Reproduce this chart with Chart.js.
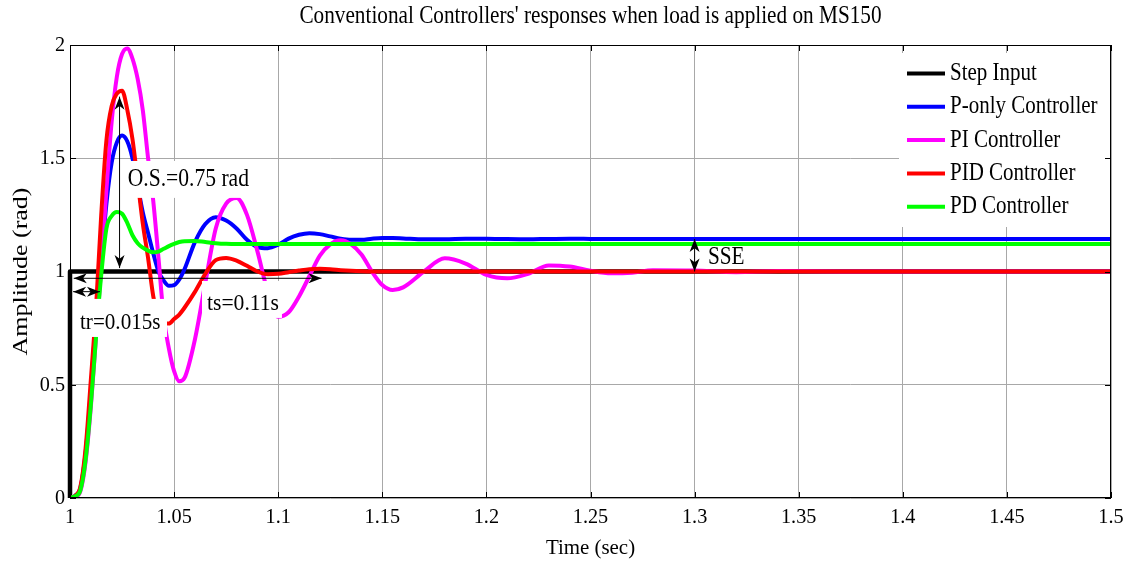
<!DOCTYPE html>
<html>
<head>
<meta charset="utf-8">
<script src="https://cdn.jsdelivr.net/npm/chart.js@4.4.1/dist/chart.umd.min.js"></script>
<style>
  body { margin: 0; background: #fff; }
  canvas { display: block; }
</style>
</head>
<body>
<canvas id="respChart" width="1136" height="562"></canvas>
<script>
// time axis (sec), shared by the four controller responses
const tSec = [
  1.0, 1.0025, 1.005, 1.0075, 1.01, 1.0125, 1.015, 1.0175, 1.02, 1.0225,
  1.025, 1.0275, 1.03, 1.0325, 1.035, 1.0375, 1.04, 1.0425, 1.045, 1.0475,
  1.05, 1.0525, 1.055, 1.06, 1.065, 1.07, 1.075, 1.08, 1.085, 1.09,
  1.095, 1.1, 1.105, 1.11, 1.115, 1.12, 1.125, 1.13, 1.135, 1.14,
  1.145, 1.15, 1.155, 1.16, 1.17, 1.18, 1.19, 1.2, 1.21, 1.22,
  1.23, 1.24, 1.25, 1.26, 1.27, 1.28, 1.3, 1.32, 1.34, 1.37,
  1.4, 1.45, 1.5
];

const pOnly = [
  0, 0.01, 0.045, 0.2, 0.47, 0.8, 1.04, 1.3, 1.48, 1.57,
  1.6, 1.575, 1.5, 1.38, 1.26, 1.17, 1.08, 1.0, 0.96, 0.937,
  0.94, 0.965, 1.01, 1.13, 1.21, 1.24, 1.225, 1.19, 1.14, 1.108,
  1.103, 1.118, 1.145, 1.162, 1.169, 1.165, 1.155, 1.145, 1.14, 1.14,
  1.145, 1.148, 1.148, 1.146, 1.142, 1.142, 1.145, 1.145, 1.143, 1.142,
  1.144, 1.145, 1.144, 1.143, 1.143, 1.144, 1.144, 1.143, 1.143, 1.143,
  1.143, 1.143, 1.143
];

const piCtrl = [
  0, 0.005, 0.03, 0.16, 0.4, 0.71, 1.02, 1.36, 1.66, 1.86,
  1.96, 1.985, 1.94, 1.85, 1.71, 1.5, 1.31, 1.06, 0.8, 0.66,
  0.56, 0.515, 0.53, 0.7, 0.95, 1.19, 1.3, 1.325, 1.25, 1.09,
  0.91, 0.8, 0.82, 0.89, 0.98, 1.07, 1.12, 1.138, 1.12, 1.075,
  1.0, 0.94, 0.918, 0.93, 1.0, 1.058, 1.035, 0.985, 0.97, 0.99,
  1.027, 1.022, 1.003, 0.992, 0.995, 1.006, 1.004, 0.997, 1.002, 1.0,
  1.0, 1.0, 1.0
];

const pidCtrl = [
  0, 0.01, 0.05, 0.22, 0.52, 0.84, 1.25, 1.58, 1.73, 1.785,
  1.798, 1.715, 1.585, 1.4, 1.21, 1.06, 0.89, 0.8, 0.77, 0.77,
  0.79, 0.81, 0.84, 0.91, 0.99, 1.05, 1.06, 1.048, 1.025, 1.0,
  0.988, 0.99, 0.997, 1.004, 1.01, 1.012, 1.01, 1.006, 1.003, 1.001,
  1, 1, 1, 1, 1, 1, 1, 1, 1, 1,
  1, 1, 1, 1, 1, 1, 1, 1, 1, 1,
  1, 1, 1
];

const pdCtrl = [
  0, 0.008, 0.035, 0.17, 0.41, 0.71, 0.985, 1.19, 1.245, 1.263,
  1.255, 1.215, 1.16, 1.125, 1.105, 1.092, 1.085, 1.088, 1.1, 1.112,
  1.122, 1.13, 1.134, 1.135, 1.13, 1.125, 1.122, 1.121, 1.121, 1.121,
  1.121, 1.121, 1.121, 1.121, 1.121, 1.121, 1.121, 1.121, 1.121, 1.121,
  1.121, 1.121, 1.121, 1.121, 1.121, 1.121, 1.121, 1.121, 1.121, 1.121,
  1.121, 1.121, 1.121, 1.121, 1.121, 1.121, 1.121, 1.121, 1.121, 1.121,
  1.121, 1.121, 1.121
];

// step input
const stepT = [1, 1, 1.5];
const stepY = [0, 1, 1];

const xTickVals = [1, 1.05, 1.1, 1.15, 1.2, 1.25, 1.3, 1.35, 1.4, 1.45, 1.5];
const xTickText = ['1', '1.05', '1.1', '1.15', '1.2', '1.25', '1.3', '1.35', '1.4', '1.45', '1.5'];
const yTickVals = [0, 0.5, 1, 1.5, 2];
const yTickText = ['0', '0.5', '1', '1.5', '2'];

const FONT = '"Liberation Serif", "Times New Roman", serif';

function pts(vals) {
  return vals.map((v, i) => ({ x: tSec[i], y: v }));
}

// text helper, sx/sy squeeze the glyphs like the original figure
function drawText(ctx, str, x, y, size, sx, align, rot, sy) {
  ctx.save();
  ctx.translate(x, y);
  if (rot) ctx.rotate(rot);
  ctx.scale(sx, sy || 1);
  ctx.font = size + 'px ' + FONT;
  ctx.textAlign = align || 'left';
  ctx.textBaseline = 'middle';
  ctx.fillStyle = '#000';
  ctx.fillText(str, 0, 0);
  ctx.restore();
}

// filled arrow head with a notch at the back
function arrowHead(ctx, tx, ty, dx, dy) {
  const len = 13, hw = 5;
  const bx = tx - dx * len, by = ty - dy * len;
  const nx = -dy, ny = dx;
  const mx = tx - dx * len * 0.72, my = ty - dy * len * 0.72;
  ctx.beginPath();
  ctx.moveTo(tx, ty);
  ctx.lineTo(bx + nx * hw, by + ny * hw);
  ctx.lineTo(mx, my);
  ctx.lineTo(bx - nx * hw, by - ny * hw);
  ctx.closePath();
  ctx.fill();
}

function dblArrow(ctx, x1, y1, x2, y2) {
  const d = Math.hypot(x2 - x1, y2 - y1);
  const dx = (x2 - x1) / d, dy = (y2 - y1) / d;
  ctx.beginPath();
  ctx.moveTo(x1, y1);
  ctx.lineTo(x2, y2);
  ctx.stroke();
  arrowHead(ctx, x2, y2, dx, dy);
  arrowHead(ctx, x1, y1, -dx, -dy);
}

// annotation boxes in data units
const whiteBoxes = [
  { x0: 1.026, x1: 1.0874, y0: 1.325, y1: 1.488 },  // O.S.
  { x0: 1.0015, x1: 1.0466, y0: 0.711, y1: 0.879 }, // tr
  { x0: 1.0634, x1: 1.1018, y0: 0.795, y1: 0.958 }  // ts
];

const decoPlugin = {
  id: 'deco',
  afterDatasetsDraw(chart) {
    const { ctx, chartArea: a, scales: { x, y } } = chart;
    ctx.save();

    // white boxes behind the labels
    ctx.fillStyle = '#fff';
    whiteBoxes.forEach(b => {
      const l = x.getPixelForValue(b.x0), r = x.getPixelForValue(b.x1);
      const t = y.getPixelForValue(b.y1), btm = y.getPixelForValue(b.y0);
      ctx.fillRect(l, t, r - l, btm - t);
    });

    // legend box
    const lgL = 899, lgT = 53, lgR = 1108, lgB = 227;
    ctx.fillRect(lgL, lgT, lgR - lgL, lgB - lgT);

    // axes frame and inward ticks
    ctx.strokeStyle = '#000';
    ctx.lineWidth = 1;
    ctx.strokeRect(Math.round(a.left) + 0.5, Math.round(a.top) + 0.5,
      Math.round(a.width) - 1, Math.round(a.height) - 1);
    ctx.beginPath();
    xTickVals.forEach(v => {
      const px = Math.round(x.getPixelForValue(v)) + 0.5;
      ctx.moveTo(px, a.bottom); ctx.lineTo(px, a.bottom - 6);
      ctx.moveTo(px, a.top); ctx.lineTo(px, a.top + 6);
    });
    yTickVals.forEach(v => {
      const py = Math.round(y.getPixelForValue(v)) + 0.5;
      ctx.moveTo(a.left, py); ctx.lineTo(a.left + 6, py);
      ctx.moveTo(a.right, py); ctx.lineTo(a.right - 6, py);
    });
    ctx.stroke();

    // tick labels
    xTickVals.forEach((v, i) => {
      drawText(ctx, xTickText[i], x.getPixelForValue(v), a.bottom + 19, 22, 0.92, 'center');
    });
    yTickVals.forEach((v, i) => {
      drawText(ctx, yTickText[i], a.left - 5, y.getPixelForValue(v), 22, 0.92, 'right');
    });

    // title and axis titles
    const cx = (a.left + a.right) / 2;
    drawText(ctx, "Conventional Controllers' responses when load is applied on MS150", cx, 16, 25, 0.85, 'center');
    drawText(ctx, 'Time (sec)', cx, 548, 22, 0.95, 'center');
    drawText(ctx, 'Amplitude (rad)', 22, (a.top + a.bottom) / 2, 22, 1.18, 'center', -Math.PI / 2, 0.95);

    // arrows
    ctx.fillStyle = '#000';
    ctx.strokeStyle = '#000';
    ctx.lineWidth = 1;
    const osX = x.getPixelForValue(1.0238);
    dblArrow(ctx, osX, y.getPixelForValue(1.015), osX, y.getPixelForValue(1.772));
    const tsY = y.getPixelForValue(0.97);
    dblArrow(ctx, x.getPixelForValue(1.0018), tsY, x.getPixelForValue(1.1208), tsY);
    const trY = y.getPixelForValue(0.911);
    dblArrow(ctx, x.getPixelForValue(1.0015), trY, x.getPixelForValue(1.0144), trY);
    const sseX = x.getPixelForValue(1.3);
    dblArrow(ctx, sseX, y.getPixelForValue(1.0), sseX, y.getPixelForValue(1.1435));

    // annotation texts
    drawText(ctx, 'O.S.=0.75 rad', x.getPixelForValue(1.0277), y.getPixelForValue(1.408), 26, 0.83);
    drawText(ctx, 'tr=0.015s', x.getPixelForValue(1.0048), y.getPixelForValue(0.775), 24, 0.88);
    drawText(ctx, 'ts=0.11s', x.getPixelForValue(1.0658), y.getPixelForValue(0.859), 24, 0.9);
    drawText(ctx, 'SSE', x.getPixelForValue(1.3064), y.getPixelForValue(1.061), 25, 0.85);

    // legend entries
    chart.data.datasets.forEach((ds, i) => {
      const ry = lgT + 20.5 + i * 33.3;
      ctx.strokeStyle = ds.borderColor;
      ctx.lineWidth = 4;
      ctx.beginPath();
      ctx.moveTo(907, ry);
      ctx.lineTo(945, ry);
      ctx.stroke();
      drawText(ctx, ds.label, 950, ry, 25, 0.84);
    });

    ctx.restore();
  }
};

new Chart(document.getElementById('respChart'), {
  type: 'line',
  data: {
    datasets: [
      { label: 'Step Input', data: stepT.map((t, i) => ({ x: t, y: stepY[i] })),
        borderColor: '#000000', borderWidth: 4.5, tension: 0, stepped: 'before',
        cubicInterpolationMode: 'default', clip: 4, order: 4 },
      { label: 'P-only Controller', data: pts(pOnly), borderColor: '#0000ff', order: 3 },
      { label: 'PI Controller', data: pts(piCtrl), borderColor: '#ff00ff', order: 2 },
      { label: 'PID Controller', data: pts(pidCtrl), borderColor: '#ff0000', order: 1 },
      { label: 'PD Controller', data: pts(pdCtrl), borderColor: '#00ff00', order: 0 }
    ]
  },
  options: {
    responsive: false,
    animation: false,
    devicePixelRatio: 1,
    layout: { padding: { left: 70, right: 25, top: 45, bottom: 64 } },
    elements: {
      point: { radius: 0 },
      line: { borderWidth: 4, cubicInterpolationMode: 'monotone', fill: false, borderJoinStyle: 'round' }
    },
    plugins: { legend: { display: false }, tooltip: { enabled: false }, title: { display: false } },
    scales: {
      x: {
        type: 'linear', min: 1, max: 1.5,
        afterBuildTicks: s => { s.ticks = xTickVals.map(v => ({ value: v })); },
        ticks: { display: false },
        grid: { color: '#a8a8a8', lineWidth: 1, drawTicks: false },
        border: { display: false }
      },
      y: {
        type: 'linear', min: 0, max: 2,
        afterBuildTicks: s => { s.ticks = yTickVals.map(v => ({ value: v })); },
        ticks: { display: false },
        grid: { color: '#a8a8a8', lineWidth: 1, drawTicks: false },
        border: { display: false }
      }
    }
  },
  plugins: [decoPlugin]
});
</script>
</body>
</html>
